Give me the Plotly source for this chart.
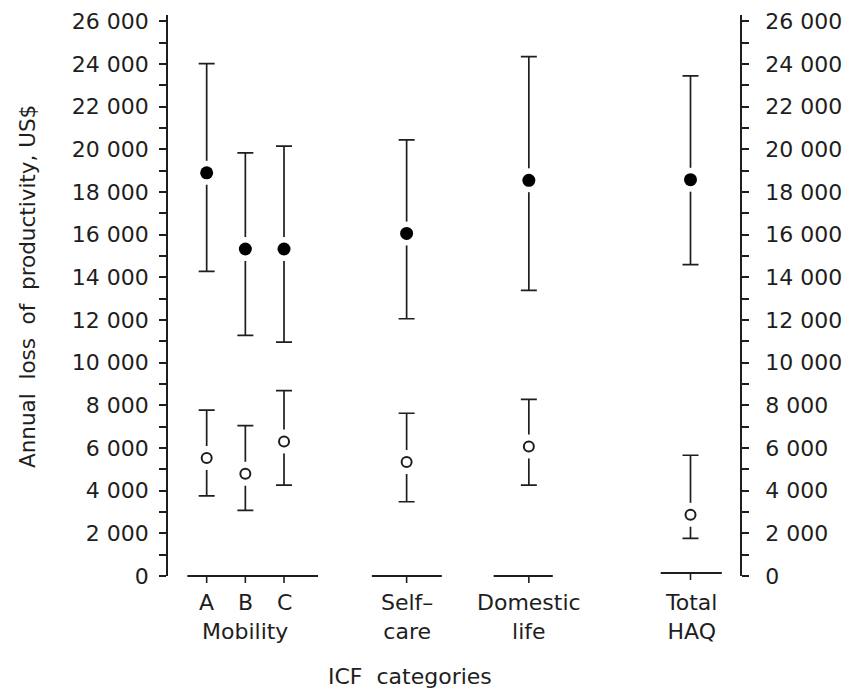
import plotly.graph_objects as go

# ---------------- data ----------------
categories = ["A", "B", "C", "Self–<br>care", "Domestic<br>life", "Total<br>HAQ"]
x_pos = [1.0, 2.0, 3.0, 6.17, 9.33, 13.51]

# filled circles (upper series)
filled_mean = [18900, 15330, 15330, 16060, 18550, 18580]
filled_upper = [24020, 19840, 20150, 20450, 24350, 23450]
filled_lower = [14280, 11280, 10960, 12060, 13390, 14600]

# open circles (lower series)
open_mean = [5530, 4790, 6300, 5340, 6070, 2870]
open_upper = [7780, 7050, 8690, 7630, 8280, 5660]
open_lower = [3760, 3080, 4260, 3480, 4260, 1760]

# group baselines (x extents); last group belongs to the right-hand axis
groups = [(0.50, 3.88, False), (5.27, 7.08, False), (8.42, 9.95, False), (12.74, 14.32, True)]
tick_vals = list(range(0, 26001, 2000))
tick_text = ["0" if v == 0 else f"{v // 1000} 000" for v in tick_vals]

INK = "#1e1e1e"
FONT = "DejaVu Sans"
H = 565.0
Y2_OFF = 3.0 / H

fig = go.Figure()

def add_layer(idxs, yax, mean, up, lo, filled):
    xs = [x_pos[i] for i in idxs]
    m = [mean[i] for i in idxs]
    return dict(
        err=go.Scatter(x=xs, y=m, mode="markers", yaxis=yax,
                       marker=dict(size=1, color="rgba(0,0,0,0)"),
                       error_y=dict(type="data", symmetric=False,
                                    array=[up[i] - mean[i] for i in idxs],
                                    arrayminus=[mean[i] - lo[i] for i in idxs],
                                    color=INK, thickness=1.7, width=8),
                       showlegend=False, hoverinfo="skip"),
        gap=go.Scatter(x=xs, y=m, mode="markers", yaxis=yax,
                       marker=dict(size=24, color="white", opacity=1, line=dict(width=0)),
                       showlegend=False, hoverinfo="skip"),
        mk=go.Scatter(x=xs, y=m, mode="markers", yaxis=yax,
                      marker=(dict(size=13, color="black", line=dict(width=0)) if filled
                              else dict(size=10, color="white", line=dict(width=2, color=INK))),
                      showlegend=False),
    )

layers = [
    add_layer([0, 1, 2, 3, 4], "y", filled_mean, filled_upper, filled_lower, True),
    add_layer([0, 1, 2, 3, 4], "y", open_mean, open_upper, open_lower, False),
    add_layer([5], "y2", filled_mean, filled_upper, filled_lower, True),
    add_layer([5], "y2", open_mean, open_upper, open_lower, False),
]
for key in ("err", "gap", "mk"):
    for L in layers:
        fig.add_trace(L[key])

shapes = []
for x0, x1, right in groups:
    yb = Y2_OFF if right else 0
    shapes.append(dict(type="line", xref="x", yref="paper", x0=x0, x1=x1, y0=yb, y1=yb,
                       line=dict(color=INK, width=1.8)))
annotations = []
for i, (xp, lab) in enumerate(zip(x_pos, categories)):
    right = i == 5
    yb = Y2_OFF if right else 0
    shapes.append(dict(type="line", xref="x", yref="paper", x0=xp, x1=xp,
                       ysizemode="pixel", yanchor=yb, y0=0, y1=-7,
                       line=dict(color=INK, width=1.6)))
    annotations.append(dict(x=xp, y=0, xref="x", yref="y2" if right else "y", text=lab,
                            showarrow=False, yanchor="top", yshift=-12,
                            font=dict(family=FONT, size=22, color=INK)))
annotations.append(dict(x=x_pos[1], y=0, xref="x", yref="y", text="Mobility", showarrow=False,
                        yanchor="top", yshift=-41, font=dict(family=FONT, size=22, color=INK)))
annotations.append(dict(x=(410 - 168) / 38.7, y=0, xref="x", yref="paper",
                        text="ICF\u00a0\u00a0categories", showarrow=False,
                        yanchor="middle", yshift=-100, font=dict(family=FONT, size=22, color=INK)))
annotations.append(dict(x=0, y=0.5, xref="paper", yref="paper", textangle=-90,
                        text="Annual\u00a0 loss\u00a0 of\u00a0 productivity,\u00a0US$", showarrow=False,
                        xanchor="center", yanchor="middle", xshift=-141, yshift=7,
                        font=dict(family=FONT, size=21.5, color=INK)))

yaxis_common = dict(range=[0, 26300], tickvals=tick_vals, ticktext=tick_text,
                    ticks="outside", ticklen=7, tickwidth=1.6, tickcolor=INK,
                    showline=True, linecolor=INK, linewidth=1.8,
                    showgrid=False, zeroline=False, automargin=False,
                    tickfont=dict(family=FONT, size=22, color=INK),
                    minor=dict(dtick=1000, tick0=0, ticks="outside", ticklen=7,
                               tickwidth=1.6, tickcolor=INK, showgrid=False))

fig.update_layout(
    width=842, height=689,
    margin=dict(l=168, r=102, t=11.5, b=112.5, autoexpand=False),
    paper_bgcolor="white", plot_bgcolor="white",
    xaxis=dict(range=[0, 14.79], showline=False, showticklabels=False, ticks="",
               showgrid=False, zeroline=False, automargin=False),
    yaxis=dict(domain=[0, 1 - Y2_OFF], side="left", ticklabelstandoff=6, **yaxis_common),
    yaxis2=dict(domain=[Y2_OFF, 1], side="right", overlaying="y", anchor="x",
                ticklabelstandoff=12, **yaxis_common),
    shapes=shapes, annotations=annotations,
)

fig.write_html("out.html")
